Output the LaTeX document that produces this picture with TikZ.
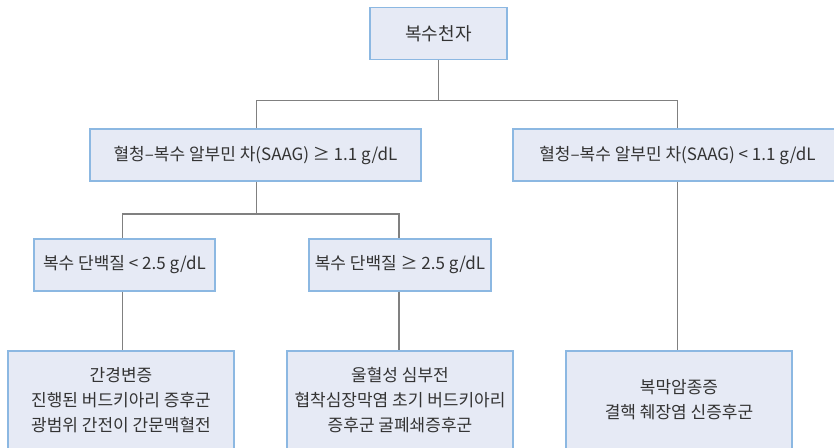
\documentclass[tikz,border=0pt]{standalone}
\usepackage{fontspec}
\setmainfont{Noto Sans CJK KR}
\definecolor{boxfill}{HTML}{E6EAF5}
\definecolor{boxline}{HTML}{8CB8E2}
\definecolor{conn}{HTML}{808080}
\begin{document}
\begin{tikzpicture}[x=1pt,y=-1pt,
  flowbox/.style={draw=boxline,fill=boxfill,line width=1.4pt,inner sep=0pt,align=center,
    font=\fontsize{17}{25}\selectfont,text=black!80},
  link/.style={draw=conn,line width=1.3pt}]
\useasboundingbox (0,0) rectangle (834,447);
\clip (0,0) rectangle (834,447);
\node[flowbox,minimum width=137pt,minimum height=52pt,font=\fontsize{18}{25}\selectfont] (root) at (438.5,33.5) {복수천자};
\node[flowbox,minimum width=331pt,minimum height=52pt] (hi) at (255.5,155) {혈청–복수 알부민 차(SAAG) ≥ 1.1 g/dL};
\node[flowbox,minimum width=329pt,minimum height=52pt] (lo) at (677.5,155) {혈청–복수 알부민 차(SAAG) < 1.1 g/dL};
\node[flowbox,minimum width=181pt,minimum height=52pt] (plo) at (124.5,265) {복수 단백질 < 2.5 g/dL};
\node[flowbox,minimum width=182pt,minimum height=52pt] (phi) at (400,265) {복수 단백질 ≥ 2.5 g/dL};
\node[flowbox,minimum width=226pt,minimum height=98pt] (c1) at (121,400) {간경변증\\진행된 버드키아리 증후군\\광범위 간전이 간문맥혈전};
\node[flowbox,minimum width=226pt,minimum height=98pt] (c2) at (400,400) {울혈성 심부전\\협착심장막염 초기 버드키아리\\증후군 굴폐쇄증후군};
\node[flowbox,minimum width=226pt,minimum height=98pt] (c3) at (679,400) {복막암종증\\결핵 췌장염 신증후군};
\coordinate (j1) at (438.5,100.5);
\coordinate (j2) at (256.5,214);
\draw[link] (root.south) -- (j1);
\draw[link] (j1) -| ([xshift=1pt]hi.north);
\draw[link] (j1) -| (lo.north);
\draw[link] ([xshift=1pt]hi.south) -- ([xshift=1pt]hi.south |- j2);
\draw[link] (j2) -| ([xshift=-2pt]plo.north);
\draw[link] (j2) -| ([xshift=-1pt]phi.north);
\draw[link] ([xshift=-2pt]plo.south) -- ([xshift=1.5pt]c1.north);
\draw[link] ([xshift=-1pt]phi.south) -- ([xshift=-1pt]c2.north);
\draw[link] (lo.south) -- ([xshift=-1.5pt]c3.north);
\end{tikzpicture}
\end{document}
